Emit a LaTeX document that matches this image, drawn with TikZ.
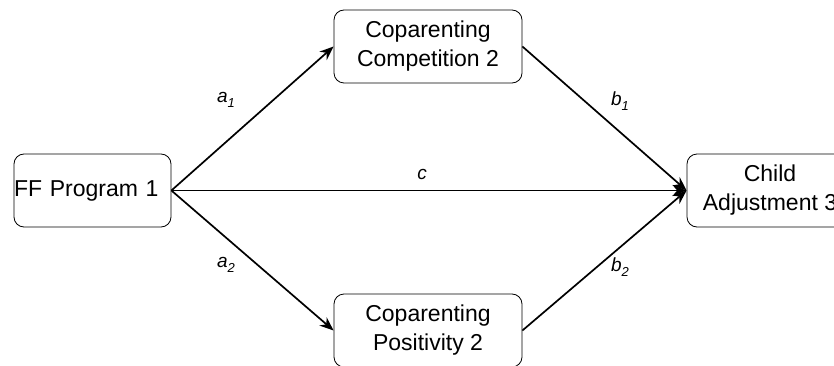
\documentclass[tikz,border=0pt]{standalone}
\usepackage{fontspec}
\setmainfont{Liberation Sans}
\usetikzlibrary{arrows.meta}
\newcommand{\lowsub}[1]{\raisebox{-0.45ex}{\fontsize{13}{14}\selectfont\itshape #1}}
\begin{document}
\begin{tikzpicture}[x=1pt,y=-1pt,
  box/.style={draw, line width=0.8pt, rounded corners=10pt, minimum height=73pt,
    inner sep=0pt, align=center, font=\fontsize{23}{29}\selectfont},
  conn/.style={line width=1.7pt, -{Stealth[length=14pt,width=11pt]}},
  lab/.style={font=\fontsize{19}{20}\selectfont\itshape, inner sep=0pt}]
\useasboundingbox (0,0) rectangle (834,366);
\node[box, minimum width=157pt, text width=157pt, align=left] (ff) at (92.5,190.5) {FF Program 1};
\node[box, minimum width=188pt] (comp) at (428,46.5) {Coparenting\\Competition 2};
\node[box, minimum width=188pt] (pos) at (428,330.5) {Coparenting\\Positivity 2};
\node[box, minimum width=166pt] (child) at (770,190.5) {Child\\Adjustment 3};
\draw[conn] (ff.east) -- (comp.west);
\draw[conn] (ff.east) -- (pos.west);
\draw[conn] (ff.east) -- (child.west);
\draw[conn] (comp.east) -- (child.west);
\draw[conn] (pos.east) -- (child.west);
\node[lab] (la1) at (226,100) {a\lowsub{1}};
\node[lab] (la2) at (226,265) {a\lowsub{2}};
\node[lab] (lb1) at (620,101) {b\lowsub{1}};
\node[lab] (lb2) at (620,267) {b\lowsub{2}};
\node[lab] (lc) at (422,174) {c};
\end{tikzpicture}
\end{document}
